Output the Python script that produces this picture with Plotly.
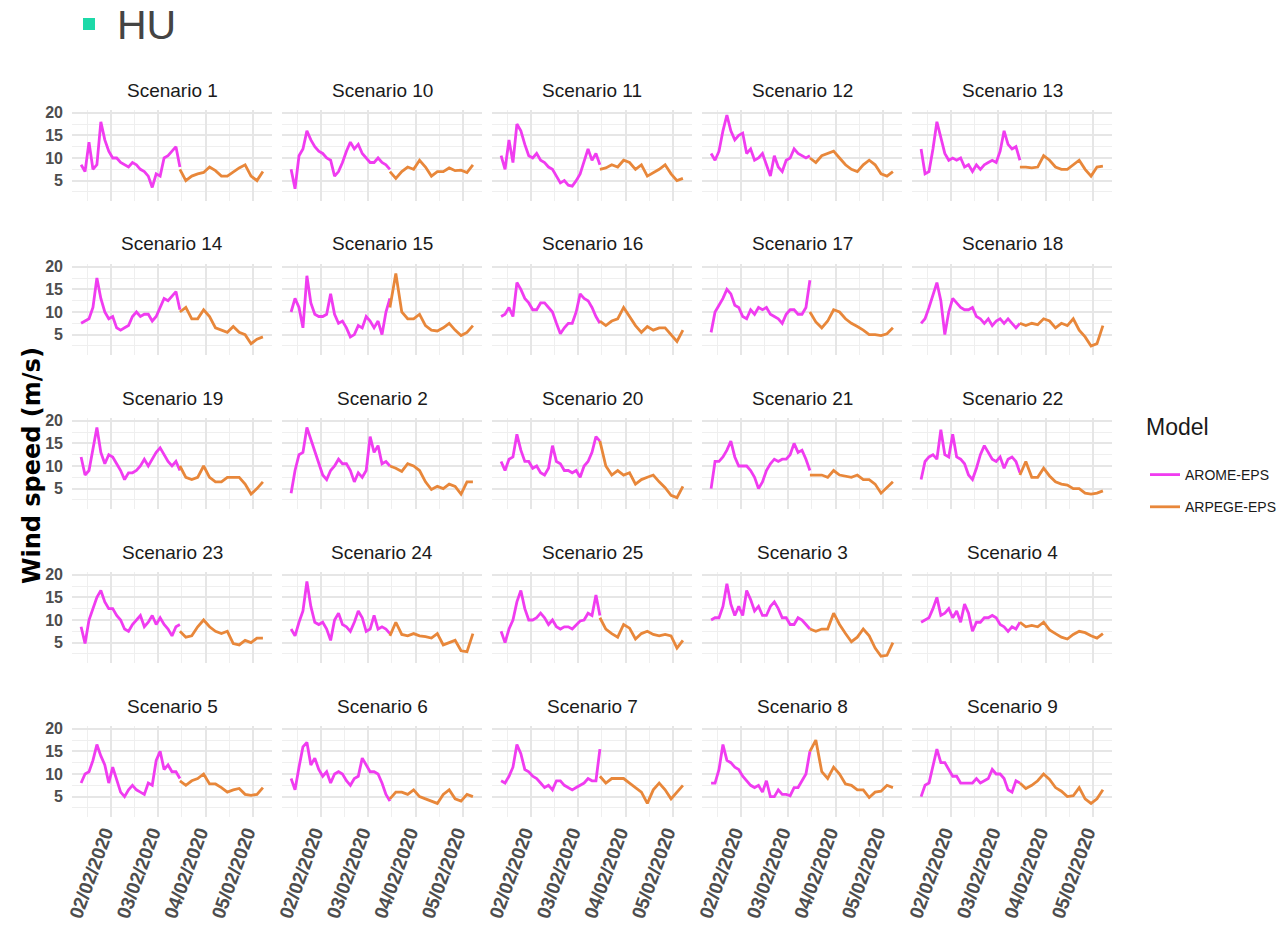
import plotly.graph_objects as go
import pandas as pd

W, H = 1281, 934

# Facet order (alphabetical, as the facet labels sort)
scenarios = ["1", "10", "11", "12", "13", "14", "15", "16", "17", "18",
             "19", "2", "20", "21", "22", "23", "24", "25", "3", "4",
             "5", "6", "7", "8", "9"]

# Time axes of the two ensemble models
arome_times = pd.date_range("2020-02-01 09:00", periods=26, freq="2h")
arpege_times = pd.date_range("2020-02-03 11:00", periods=15, freq="3h")

# Wind speed (m/s) per scenario: AROME-EPS then ARPEGE-EPS
arome_1 = [8.5, 7.0, 13.5, 7.5, 8.5, 18.0, 14.0, 11.5, 10.0, 10.0, 9.0, 8.5, 8.0, 9.0, 8.5, 7.5, 7.0, 6.0, 3.5, 6.5, 6.0, 10.0, 10.5, 11.5, 12.5, 8.0]
arpege_1 = [7.5, 5.0, 6.0, 6.5, 6.8, 8.0, 7.2, 6.0, 6.0, 7.0, 7.8, 8.5, 6.0, 5.0, 7.0]
arome_10 = [7.5, 3.2, 10.5, 12.0, 16.0, 14.0, 12.5, 11.5, 11.0, 10.0, 9.5, 6.0, 7.0, 9.0, 11.5, 13.5, 12.0, 13.0, 11.0, 10.0, 9.0, 9.0, 10.0, 9.0, 8.5, 7.5]
arpege_10 = [7.0, 5.5, 7.0, 8.0, 7.5, 9.5, 8.0, 6.0, 7.0, 7.0, 7.8, 7.2, 7.3, 6.8, 8.5]
arome_11 = [10.5, 7.5, 14.0, 9.0, 17.5, 16.0, 13.0, 10.5, 10.0, 11.0, 9.5, 9.0, 8.0, 7.5, 6.0, 4.5, 5.0, 4.0, 3.8, 5.0, 6.5, 9.5, 12.0, 9.5, 11.0, 8.5]
arpege_11 = [7.5, 7.8, 8.5, 8.0, 9.5, 9.0, 7.5, 8.5, 6.0, 6.8, 7.5, 8.5, 6.5, 5.0, 5.5]
arome_12 = [11.0, 9.5, 11.5, 16.0, 19.5, 16.0, 14.0, 15.0, 15.5, 11.0, 12.0, 9.5, 10.0, 11.0, 8.5, 6.0, 10.5, 8.0, 7.0, 9.5, 10.0, 12.0, 11.0, 10.5, 10.0, 10.5]
arpege_12 = [10.0, 9.0, 10.5, 11.0, 11.5, 10.0, 8.5, 7.5, 7.0, 8.5, 9.5, 8.5, 6.5, 6.0, 7.0]
arome_13 = [12.0, 6.5, 7.0, 12.0, 18.0, 14.5, 11.0, 9.5, 10.0, 9.5, 10.0, 8.0, 8.5, 7.0, 8.5, 7.5, 8.5, 9.0, 9.5, 9.0, 11.5, 16.0, 13.0, 12.0, 12.5, 9.5]
arpege_13 = [8.0, 8.0, 7.8, 8.0, 10.5, 9.5, 8.0, 7.5, 7.5, 8.5, 9.5, 7.5, 6.0, 8.0, 8.2]
arome_14 = [7.5, 8.0, 8.5, 11.0, 17.5, 13.0, 10.0, 8.5, 9.0, 6.5, 6.0, 6.5, 7.0, 9.0, 10.0, 9.0, 9.5, 9.5, 8.0, 9.0, 11.0, 13.0, 12.5, 13.5, 14.5, 10.5]
arpege_14 = [10.0, 11.0, 8.5, 8.5, 10.5, 9.0, 6.5, 6.0, 5.5, 6.8, 5.5, 5.0, 3.0, 4.0, 4.5]
arome_15 = [10.0, 13.0, 11.0, 6.5, 18.0, 12.0, 9.5, 9.0, 9.0, 9.5, 14.0, 9.5, 7.5, 8.0, 6.5, 4.5, 5.0, 7.0, 6.5, 9.0, 8.0, 6.5, 8.0, 5.0, 10.0, 13.0]
arpege_15 = [11.0, 18.5, 10.0, 8.5, 8.5, 9.5, 7.0, 6.0, 5.8, 6.5, 7.5, 6.0, 4.8, 5.5, 7.0]
arome_16 = [9.0, 9.5, 11.0, 9.0, 16.5, 15.0, 13.0, 12.0, 10.5, 10.5, 12.0, 12.0, 11.0, 10.0, 7.5, 5.2, 6.5, 7.5, 7.5, 10.0, 14.0, 13.0, 12.5, 11.0, 9.0, 7.5]
arpege_16 = [8.0, 7.0, 8.0, 8.5, 11.0, 9.0, 7.0, 5.5, 6.8, 6.0, 6.5, 6.5, 5.0, 3.5, 6.0]
arome_17 = [5.5, 10.0, 11.5, 13.0, 15.0, 14.0, 11.5, 11.0, 9.0, 8.5, 10.5, 9.5, 11.0, 10.5, 11.0, 9.5, 9.0, 8.5, 7.5, 9.5, 10.5, 10.5, 9.5, 9.5, 11.0, 17.0]
arpege_17 = [10.0, 7.8, 6.5, 8.0, 10.5, 10.0, 8.5, 7.5, 6.8, 6.0, 5.0, 5.0, 4.8, 5.2, 6.5]
arome_18 = [7.5, 8.5, 11.0, 13.5, 16.5, 12.5, 5.0, 10.0, 13.0, 12.0, 11.0, 10.5, 10.5, 11.0, 9.0, 8.5, 7.5, 8.5, 7.0, 8.0, 8.5, 7.5, 8.5, 7.5, 6.5, 7.5]
arpege_18 = [7.5, 7.0, 7.5, 7.2, 8.5, 8.0, 6.5, 7.5, 7.0, 8.5, 6.0, 4.5, 2.5, 3.0, 7.0]
arome_19 = [12.0, 8.0, 9.0, 14.0, 18.5, 13.0, 10.5, 12.5, 12.0, 10.5, 9.0, 7.0, 8.5, 8.5, 9.0, 10.0, 11.5, 10.0, 11.5, 13.0, 14.0, 12.5, 11.0, 10.0, 11.0, 9.0]
arpege_19 = [10.0, 7.5, 7.0, 7.5, 10.0, 7.5, 6.5, 6.5, 7.5, 7.5, 7.5, 6.0, 3.8, 5.0, 6.5]
arome_2 = [4.0, 9.0, 12.5, 13.0, 18.5, 16.0, 13.5, 10.5, 8.0, 7.0, 9.0, 10.0, 11.5, 10.5, 10.5, 9.0, 6.5, 8.5, 7.5, 9.0, 16.5, 13.0, 14.5, 10.5, 11.0, 10.0]
arpege_2 = [10.0, 9.5, 8.8, 10.5, 10.0, 9.0, 6.5, 4.8, 5.5, 5.0, 6.0, 5.5, 3.8, 6.5, 6.5]
arome_20 = [11.0, 9.0, 11.5, 12.0, 17.0, 13.5, 11.0, 11.0, 9.5, 10.0, 8.5, 8.0, 9.5, 14.5, 11.0, 10.5, 9.0, 9.0, 8.5, 9.0, 7.5, 10.0, 11.0, 13.0, 16.5, 15.5]
arpege_20 = [15.5, 10.0, 8.0, 9.0, 8.0, 8.5, 6.0, 7.0, 7.5, 8.0, 6.5, 5.2, 3.5, 3.0, 5.5]
arome_21 = [5.0, 11.0, 11.0, 12.0, 13.5, 15.5, 12.0, 10.0, 10.0, 10.0, 9.0, 7.5, 5.0, 6.5, 9.0, 10.5, 11.5, 11.0, 11.5, 11.5, 12.5, 15.0, 13.0, 13.5, 11.5, 9.0]
arpege_21 = [8.0, 8.0, 8.0, 7.5, 9.0, 8.0, 7.8, 7.5, 8.0, 7.0, 7.0, 6.0, 4.0, 5.2, 6.5]
arome_22 = [7.0, 11.0, 12.0, 12.5, 11.5, 18.0, 12.5, 12.0, 17.0, 12.0, 11.5, 10.5, 8.0, 7.0, 9.5, 12.5, 14.5, 13.0, 11.5, 11.0, 12.0, 9.5, 11.5, 12.0, 11.0, 8.5]
arpege_22 = [8.0, 11.0, 7.5, 7.5, 9.5, 7.8, 6.5, 6.0, 5.8, 5.0, 5.0, 4.0, 3.8, 4.0, 4.5]
arome_23 = [8.5, 4.8, 10.0, 12.5, 15.0, 16.5, 14.0, 12.5, 12.5, 11.0, 10.0, 8.0, 7.5, 9.0, 10.0, 11.0, 8.5, 9.5, 11.0, 9.0, 10.5, 9.0, 8.0, 6.5, 8.5, 9.0]
arpege_23 = [7.5, 6.2, 6.5, 8.5, 10.0, 8.5, 7.5, 7.0, 7.5, 4.8, 4.5, 5.5, 5.0, 6.0, 6.0]
arome_24 = [8.0, 6.5, 9.5, 12.0, 18.5, 13.0, 9.5, 9.0, 9.5, 8.0, 5.5, 10.0, 11.5, 9.0, 8.5, 7.5, 9.5, 12.0, 10.5, 7.5, 8.0, 11.0, 8.0, 8.5, 8.0, 7.0]
arpege_24 = [6.5, 9.5, 6.8, 6.5, 7.0, 6.5, 6.3, 6.0, 7.0, 4.5, 5.0, 5.5, 3.2, 3.0, 7.0]
arome_25 = [7.5, 5.0, 8.0, 10.0, 14.0, 16.5, 12.5, 10.0, 10.0, 10.5, 11.5, 10.5, 9.0, 10.0, 8.5, 8.0, 8.5, 8.5, 8.0, 9.0, 9.8, 10.0, 11.5, 11.0, 15.5, 11.0]
arpege_25 = [10.5, 8.0, 7.0, 6.2, 9.0, 8.2, 5.8, 7.0, 7.5, 6.8, 6.5, 6.8, 6.5, 3.8, 5.5]
arome_3 = [10.0, 10.5, 10.5, 13.0, 18.0, 13.5, 11.0, 13.0, 11.0, 16.5, 14.5, 12.0, 13.0, 11.0, 11.0, 13.0, 14.0, 12.5, 10.5, 10.5, 9.0, 9.0, 10.5, 10.0, 9.0, 8.0]
arpege_3 = [8.0, 7.5, 8.0, 8.0, 11.5, 9.0, 7.0, 5.2, 6.2, 8.0, 6.5, 3.8, 2.0, 2.2, 5.0]
arome_4 = [9.5, 10.0, 10.5, 12.5, 15.0, 11.0, 11.5, 12.5, 10.5, 12.0, 9.5, 13.5, 11.5, 7.5, 9.5, 9.5, 10.5, 10.5, 11.0, 10.5, 9.0, 8.5, 7.5, 8.5, 8.0, 9.5]
arpege_4 = [9.5, 8.5, 8.8, 8.5, 9.5, 7.8, 7.0, 6.2, 5.8, 6.8, 7.5, 7.2, 6.5, 6.0, 7.0]
arome_5 = [8.0, 10.0, 10.5, 13.0, 16.5, 14.0, 12.0, 8.0, 11.5, 8.5, 6.0, 5.0, 6.5, 7.5, 6.5, 6.0, 5.5, 8.0, 7.5, 13.0, 15.0, 11.0, 12.0, 10.5, 10.5, 9.0]
arpege_5 = [8.5, 7.5, 8.5, 9.0, 10.0, 7.8, 7.8, 7.0, 6.0, 6.5, 6.8, 5.5, 5.3, 5.5, 7.0]
arome_6 = [9.0, 6.5, 11.5, 16.0, 17.0, 12.0, 13.5, 11.0, 9.5, 10.5, 8.0, 10.0, 10.5, 10.0, 8.5, 7.5, 9.0, 9.5, 13.5, 12.0, 10.5, 10.5, 10.0, 8.0, 5.5, 4.0]
arpege_6 = [4.5, 6.0, 6.0, 5.5, 6.5, 5.0, 4.5, 4.0, 3.5, 5.5, 6.5, 4.5, 4.0, 5.5, 5.0]
arome_7 = [8.5, 8.0, 9.5, 11.5, 16.5, 14.5, 11.0, 10.5, 9.5, 9.0, 8.0, 7.0, 7.5, 6.5, 8.5, 8.5, 7.5, 7.0, 6.5, 7.0, 7.5, 8.0, 9.0, 8.5, 8.5, 15.5]
arpege_7 = [9.5, 8.0, 9.0, 9.0, 9.0, 8.0, 7.0, 6.0, 3.5, 6.5, 8.0, 6.5, 4.5, 6.0, 7.5]
arome_8 = [8.0, 8.0, 11.0, 16.5, 13.0, 12.5, 11.5, 11.0, 9.5, 8.5, 7.5, 7.0, 7.5, 6.0, 8.5, 5.0, 5.0, 6.5, 5.5, 5.5, 5.2, 7.0, 7.0, 8.5, 10.0, 15.0]
arpege_8 = [15.0, 17.5, 10.5, 9.0, 11.5, 10.0, 7.8, 7.5, 6.5, 6.5, 4.8, 6.0, 6.2, 7.5, 7.0]
arome_9 = [5.0, 7.5, 8.0, 11.5, 15.5, 12.5, 12.5, 11.0, 9.5, 9.5, 8.0, 8.0, 8.0, 8.0, 9.0, 8.0, 8.5, 9.0, 11.0, 10.0, 10.0, 9.0, 6.5, 6.0, 8.5, 8.0]
arpege_9 = [8.0, 6.8, 7.5, 8.5, 10.0, 8.8, 7.0, 6.2, 5.0, 5.2, 7.0, 4.5, 3.5, 4.5, 6.5]

series = {
    "1": (arome_1, arpege_1), "10": (arome_10, arpege_10), "11": (arome_11, arpege_11),
    "12": (arome_12, arpege_12), "13": (arome_13, arpege_13), "14": (arome_14, arpege_14),
    "15": (arome_15, arpege_15), "16": (arome_16, arpege_16), "17": (arome_17, arpege_17),
    "18": (arome_18, arpege_18), "19": (arome_19, arpege_19), "2": (arome_2, arpege_2),
    "20": (arome_20, arpege_20), "21": (arome_21, arpege_21), "22": (arome_22, arpege_22),
    "23": (arome_23, arpege_23), "24": (arome_24, arpege_24), "25": (arome_25, arpege_25),
    "3": (arome_3, arpege_3), "4": (arome_4, arpege_4), "5": (arome_5, arpege_5),
    "6": (arome_6, arpege_6), "7": (arome_7, arpege_7), "8": (arome_8, arpege_8),
    "9": (arome_9, arpege_9),
}

models = ["AROME-EPS", "ARPEGE-EPS"]
colors = {"AROME-EPS": "#F03CF0", "ARPEGE-EPS": "#E8873A"}
y_ticks = [5, 10, 15, 20]
y_minor = [2.5, 7.5, 12.5, 17.5]

# Panel geometry in pixels
COL_X0, COL_STEP, PANEL_W = 72, 210, 200
ROW_Y0, ROW_STEP, PANEL_H = 110, 154, 91
X_RANGE = ["2020-02-01 04:24", "2020-02-05 09:36"]
Y_RANGE = [0.5, 20.6]

SANS = "Liberation Sans, Arial"
GRID = "#E6E6E6"
MINOR_GRID = "#EFEFEF"
TEXT = "#1A1A1A"

fig = go.Figure()
layout = {}
annotations = []

for i, sc in enumerate(scenarios):
    r, c = divmod(i, 5)
    n = i + 1
    xname = "x" if n == 1 else f"x{n}"
    yname = "y" if n == 1 else f"y{n}"
    xa = "xaxis" if n == 1 else f"xaxis{n}"
    ya = "yaxis" if n == 1 else f"yaxis{n}"

    x0 = COL_X0 + c * COL_STEP
    top = ROW_Y0 + r * ROW_STEP
    layout[xa] = dict(
        domain=[x0 / W, (x0 + PANEL_W) / W], anchor=yname,
        type="date", range=X_RANGE, automargin=False,
        tick0="2020-02-02", dtick=86400000, tickformat="%d/%m/%Y",
        showticklabels=(r == 4), tickangle=-70, ticklabelshift=-6,
        tickfont=dict(family=SANS, size=19, color="#4D4D4D", weight="bold"),
        showgrid=True, gridcolor=GRID, gridwidth=1.5,
        minor=dict(dtick=43200000, tick0="2020-02-01 12:00", showgrid=True,
                   gridcolor=MINOR_GRID, gridwidth=1),
        zeroline=False, showline=False, ticks="",
    )
    layout[ya] = dict(
        domain=[1 - (top + PANEL_H) / H, 1 - top / H], anchor=xname,
        range=Y_RANGE, tickvals=y_ticks, showticklabels=(c == 0), automargin=False,
        tickfont=dict(family=SANS, size=16, color="#4D4D4D", weight="bold"),
        showgrid=True, gridcolor=GRID, gridwidth=1.5,
        minor=dict(tickvals=y_minor, showgrid=True, gridcolor=MINOR_GRID, gridwidth=1),
        zeroline=False, showline=False, ticks="", ticklabelstandoff=8,
    )

    arome_vals, arpege_vals = series[sc]
    for model, times, vals in (("AROME-EPS", arome_times, arome_vals),
                               ("ARPEGE-EPS", arpege_times, arpege_vals)):
        fig.add_trace(go.Scatter(
            x=times, y=vals, mode="lines", name=model, legendgroup=model,
            showlegend=(i == 0), line=dict(color=colors[model], width=2.8),
            xaxis=xname, yaxis=yname,
        ))

    annotations.append(dict(
        text=f"Scenario {sc}", xref="paper", yref="paper",
        x=(x0 + PANEL_W / 2) / W, y=1 - (top - 20) / H,
        xanchor="center", yanchor="middle", showarrow=False,
        font=dict(family=SANS, size=19, color=TEXT),
    ))

# Axis title shared by all rows
annotations.append(dict(
    text="Wind speed (m/s)", xref="paper", yref="paper",
    x=32 / W, y=1 - 466 / H, xanchor="center", yanchor="middle",
    textangle=-90, showarrow=False,
    font=dict(family="DejaVu Sans", size=24, color="#000000", weight="bold"),
))

# Legend heading
annotations.append(dict(
    text="Model", xref="paper", yref="paper", x=1144 / W, y=1 - 427 / H,
    xanchor="left", yanchor="middle", showarrow=False,
    font=dict(family=SANS, size=23, color=TEXT),
))

# Slide heading
annotations.append(dict(
    text="HU", xref="paper", yref="paper", x=115 / W, y=1,
    xanchor="left", yanchor="top", showarrow=False,
    font=dict(family=SANS, size=41, color="#444444"),
))

shapes = [dict(type="rect", xref="paper", yref="paper",
               x0=83 / W, x1=95 / W, y0=1 - 30 / H, y1=1 - 18 / H,
               fillcolor="#1DD9A8", line=dict(width=0))]

fig.update_layout(
    **layout,
    width=W, height=H,
    margin=dict(l=0, r=0, t=0, b=0, autoexpand=False),
    paper_bgcolor="white", plot_bgcolor="white",
    annotations=annotations, shapes=shapes,
    showlegend=True,
    legend=dict(
        font=dict(family=SANS, size=14, color=TEXT),
        x=1145 / W, y=1 - 459 / H, xanchor="left", yanchor="top",
        tracegroupgap=11, itemwidth=30, bgcolor="rgba(0,0,0,0)",
    ),
)

fig.write_html("out.html")
